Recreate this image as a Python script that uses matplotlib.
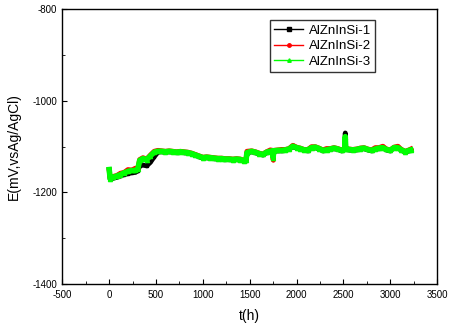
import matplotlib.pyplot as plt
from matplotlib.ticker import MultipleLocator

plt.rcParams['font.family'] = ['Liberation Sans', 'DejaVu Sans']
plt.rcParams['axes.unicode_minus'] = False

# tempo (h)
t = [0, 10, 40, 80, 120, 160, 200, 240, 280, 305,
     325, 360, 400, 440, 480, 520, 560, 600, 640, 680,
     720, 760, 800, 840, 880, 920, 960, 1000, 1040, 1080,
     1120, 1160, 1200, 1240, 1280, 1320, 1360, 1400, 1440, 1460,
     1470, 1520, 1560, 1600, 1640, 1680, 1720, 1745, 1750, 1755,
     1800, 1840, 1880, 1920, 1960, 2000, 2040, 2080, 2120, 2160,
     2200, 2240, 2280, 2320, 2360, 2400, 2440, 2480, 2515, 2520,
     2525, 2560, 2600, 2640, 2680, 2720, 2760, 2800, 2840, 2880,
     2920, 2960, 3000, 3040, 3080, 3120, 3160, 3200, 3220]

e1 = [-1150, -1171, -1169, -1167, -1164, -1161, -1159, -1157, -1156, -1153,
      -1142, -1140, -1142, -1134, -1122, -1112, -1111, -1112, -1111, -1112,
      -1113, -1112, -1113, -1114, -1116, -1119, -1122, -1125, -1124, -1125,
      -1126, -1127, -1127, -1128, -1128, -1129, -1128, -1129, -1132, -1131,
      -1114, -1111, -1113, -1116, -1118, -1113, -1111, -1110, -1112, -1110,
      -1109, -1109, -1108, -1106, -1100, -1103, -1105, -1108, -1109, -1103,
      -1102, -1105, -1109, -1108, -1106, -1104, -1106, -1109, -1106, -1070,
      -1106, -1107, -1108, -1107, -1105, -1104, -1107, -1109, -1106, -1104,
      -1103, -1107, -1109, -1103, -1103, -1108, -1112, -1109, -1108]

e2 = [-1152, -1168, -1165, -1163, -1158, -1156, -1150, -1151, -1147, -1148,
      -1128, -1124, -1127, -1118, -1110, -1108, -1109, -1110, -1109, -1110,
      -1111, -1110, -1111, -1112, -1114, -1117, -1120, -1123, -1122, -1123,
      -1124, -1125, -1125, -1126, -1126, -1127, -1126, -1127, -1130, -1129,
      -1110, -1109, -1111, -1114, -1116, -1111, -1107, -1108, -1129, -1108,
      -1107, -1106, -1106, -1104, -1097, -1101, -1103, -1106, -1106, -1100,
      -1100, -1103, -1107, -1104, -1104, -1102, -1104, -1107, -1104, -1104,
      -1104, -1105, -1106, -1105, -1103, -1102, -1105, -1107, -1102, -1102,
      -1099, -1105, -1107, -1101, -1099, -1106, -1110, -1107, -1105]

e3 = [-1150, -1170, -1167, -1164, -1161, -1157, -1154, -1152, -1152, -1149,
      -1130, -1126, -1128, -1120, -1112, -1110, -1110, -1111, -1110, -1111,
      -1112, -1111, -1112, -1113, -1115, -1118, -1121, -1124, -1123, -1124,
      -1125, -1126, -1126, -1127, -1127, -1128, -1127, -1128, -1131, -1130,
      -1113, -1110, -1112, -1115, -1117, -1112, -1110, -1109, -1124, -1109,
      -1108, -1108, -1107, -1105, -1099, -1102, -1104, -1107, -1107, -1102,
      -1101, -1104, -1108, -1107, -1105, -1103, -1105, -1108, -1105, -1078,
      -1105, -1106, -1107, -1106, -1104, -1103, -1106, -1108, -1105, -1103,
      -1102, -1106, -1108, -1102, -1102, -1107, -1111, -1108, -1107]

nomes = ["AlZnInSi-1", "AlZnInSi-2", "AlZnInSi-3"]

fig = plt.figure(figsize=(4.52, 3.26), dpi=100)
ax = fig.add_axes([0.138, 0.129, 0.829, 0.842])

ax.plot(t, e1, color="black", lw=3.5, marker="s", ms=2, label=nomes[0])
ax.plot(t, e2, color="red", lw=3.5, marker="o", ms=2, label=nomes[1])
ax.plot(t, e3, color="#00ff00", lw=4, marker="^", ms=3, label=nomes[2])

ax.set_xlim(-500, 3500)
ax.set_ylim(-1400, -800)
ax.xaxis.set_major_locator(MultipleLocator(500))
ax.xaxis.set_minor_locator(MultipleLocator(250))
ax.yaxis.set_major_locator(MultipleLocator(200))
ax.yaxis.set_minor_locator(MultipleLocator(100))
ax.tick_params(which="both", direction="in", labelsize=7, pad=4)
ax.tick_params(which="major", length=3.5)
ax.tick_params(which="minor", length=2)
for s in ax.spines.values():
    s.set_linewidth(1)

ax.set_xlabel("t(h)", fontsize=10, labelpad=7)
ax.set_ylabel("E(mV,vsAg/AgCl)", fontsize=10, labelpad=8)

leg = ax.legend(loc="upper left", bbox_to_anchor=(0.555, 0.96), fontsize=9.5,
                frameon=True, fancybox=False, edgecolor="black",
                handlelength=2.2, handletextpad=0.4, borderpad=0.3,
                labelspacing=0.25, borderaxespad=0)
leg.get_frame().set_linewidth(1)
for h in leg.legend_handles:
    h.set_linewidth(1)
    h.set_markersize(2.5)

fig.savefig("out.png", dpi=100)
